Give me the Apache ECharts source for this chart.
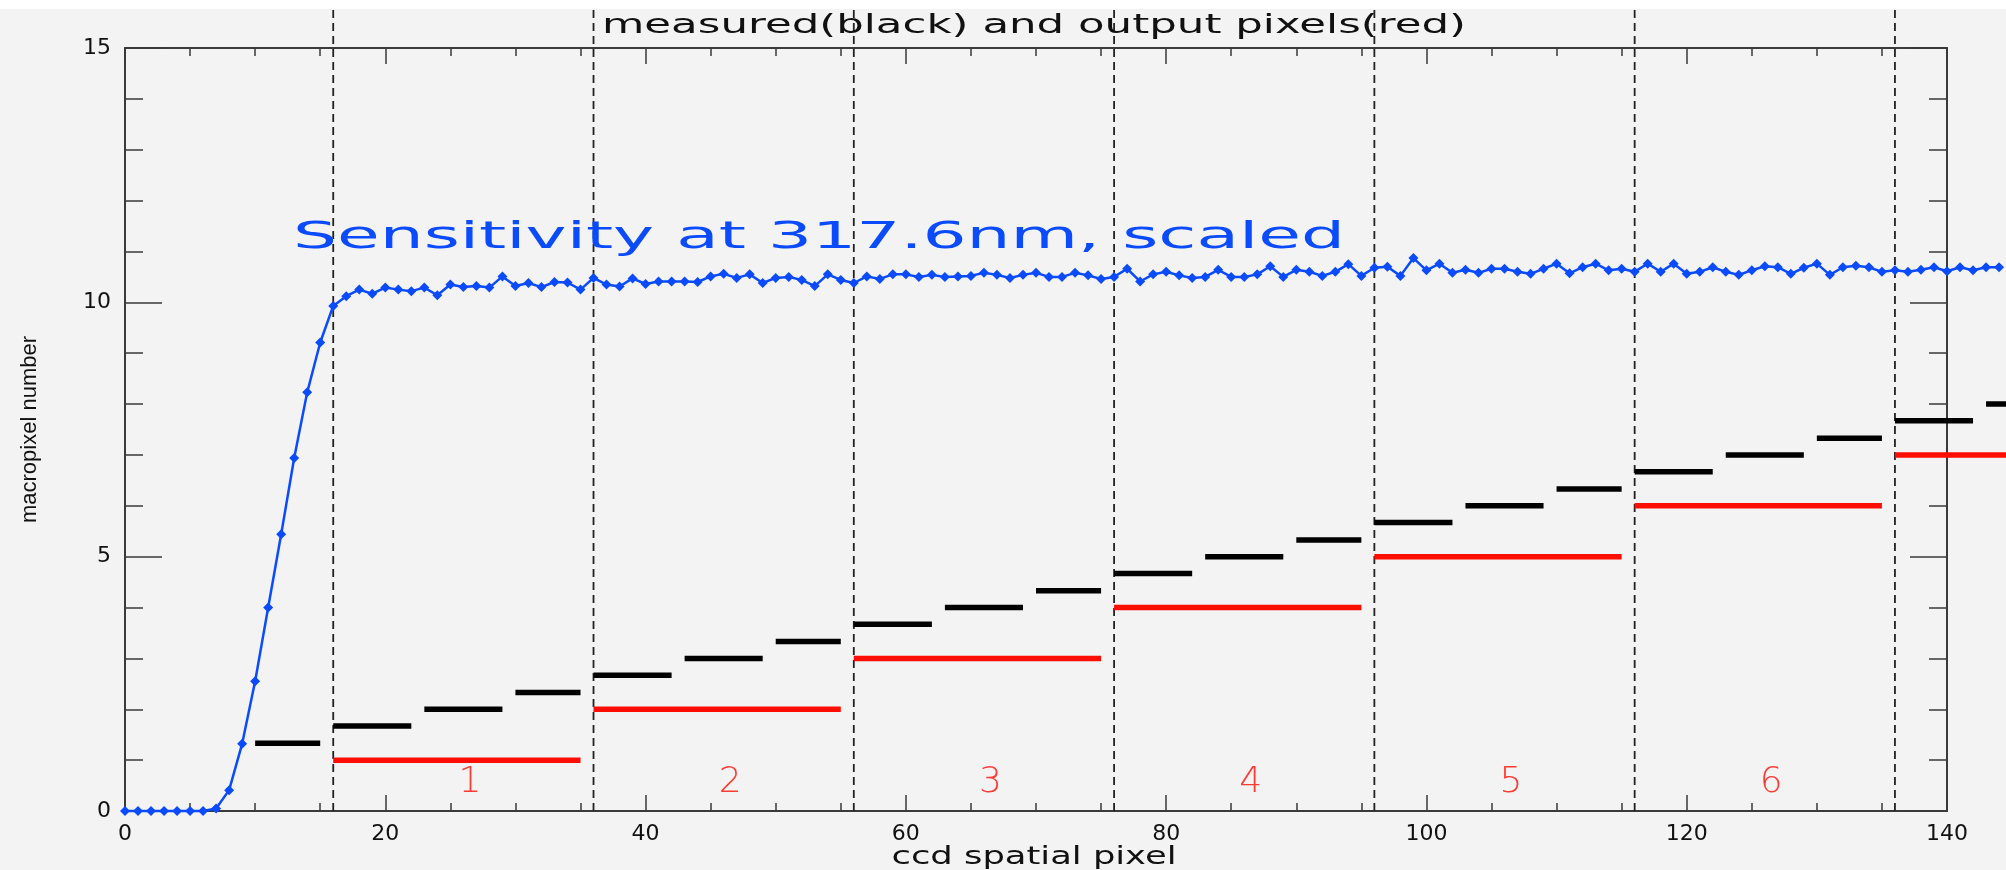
<!DOCTYPE html>
<html>
<head>
<meta charset="utf-8">
<script src="https://cdn.jsdelivr.net/npm/echarts@6/dist/echarts.min.js"></script>
<style>
html,body{margin:0;padding:0;background:#f3f3f3;}
#c{width:2006px;height:870px;}
</style>
</head>
<body>
<div id="c"></div>
<script>
// ---------------- data ----------------
const titleText = 'measured(black) and output pixels(red)';
const sensText = 'Sensitivity at 317.6nm, scaled';
const xAxisName = 'ccd spatial pixel';
const yAxisName = 'macropixel number';

const xTickLabels = ['0', '20', '40', '60', '80', '100', '120', '140'];
const yTickLabels = ['0', '5', '10', '15'];

// sensitivity (scaled) per ccd spatial pixel, index = pixel 0..144
const sensitivity = [
  0, 0, 0, 0, 0, 0, 0, 0.05, 0.41, 1.32,
  2.55, 4.00, 5.44, 6.94, 8.23, 9.21, 9.93, 10.12, 10.25, 10.17,
  10.29, 10.25, 10.22, 10.29, 10.14, 10.35, 10.30, 10.32, 10.29, 10.51,
  10.32, 10.38, 10.30, 10.40, 10.39, 10.25, 10.48, 10.35, 10.31, 10.47,
  10.36, 10.41, 10.41, 10.41, 10.40, 10.51, 10.56, 10.48, 10.55, 10.38,
  10.48, 10.50, 10.44, 10.32, 10.55, 10.44, 10.38, 10.51, 10.46, 10.55,
  10.55, 10.50, 10.54, 10.50, 10.51, 10.52, 10.58, 10.54, 10.48, 10.54,
  10.58, 10.50, 10.50, 10.58, 10.53, 10.46, 10.50, 10.66, 10.41, 10.55,
  10.60, 10.53, 10.48, 10.50, 10.64, 10.50, 10.50, 10.55, 10.71, 10.50,
  10.64, 10.60, 10.52, 10.60, 10.75, 10.52, 10.68, 10.70, 10.52, 10.87,
  10.63, 10.76, 10.58, 10.64, 10.58, 10.66, 10.66, 10.60, 10.56, 10.66,
  10.76, 10.57, 10.69, 10.76, 10.63, 10.66, 10.60, 10.76, 10.60, 10.76,
  10.56, 10.60, 10.69, 10.60, 10.54, 10.63, 10.71, 10.69, 10.56, 10.68,
  10.76, 10.54, 10.69, 10.72, 10.69, 10.60, 10.63, 10.60, 10.64, 10.69,
  10.61, 10.69, 10.63, 10.69, 10.69
];

// measured macropixels (black)
const blackStart = [10, 16, 23, 30, 36, 43, 50, 56, 63, 70, 76, 83, 90, 96, 103, 110, 116, 123, 130, 136, 143];
const blackEnd   = [15, 22, 29, 35, 42, 49, 55, 62, 69, 75, 82, 89, 95, 102, 109, 115, 122, 129, 135, 142, 149];
const blackValue = [1.33, 1.67, 2.00, 2.33, 2.67, 3.00, 3.33, 3.67, 4.00, 4.33, 4.67, 5.00, 5.33, 5.67, 6.00, 6.33, 6.67, 7.00, 7.33, 7.67, 8.00];

// output pixels (red)
const redStart = [16, 36, 56, 76, 96, 116, 136];
const redEnd   = [35, 55, 75, 95, 115, 135, 155];
const redValue = [1, 2, 3, 4, 5, 6, 7];

// output pixel boundaries (dashed)
const dividerX = [16, 36, 56, 76, 96, 116, 136];
const dividerTop = 15.8;

// output pixel numbers (red labels)
const pixelLabels = ['1', '2', '3', '4', '5', '6'];
const pixelLabelX = [26.5, 46.5, 66.5, 86.5, 106.5, 126.5];
const pixelLabelY = [0.56, 0.56, 0.56, 0.56, 0.56, 0.56];

// axis ranges
const xMin = 0, xMax = 140, xStep = 20;
const yMin = 0, yMax = 15, yStep = 5;

// ---------------- build ----------------
function segments(starts, ends, vals) {
  const d = [];
  starts.forEach((s, i) => {
    d.push([s, vals[i]], [ends[i], vals[i]], [ends[i], null]);
  });
  return d;
}
function dividers(xs, top) {
  const d = [];
  xs.forEach(x => { d.push([x, 0], [x, top], [x, null]); });
  return d;
}
function textWidth(text, font) {
  const ctx = document.createElement('canvas').getContext('2d');
  ctx.font = font;
  return ctx.measureText(text).width;
}

const FONT = '"DejaVu Sans", sans-serif';
const AX = '#3a3a3a';
const BLUE = '#0b4bff';
const RED = '#ff0d00';

const titleSize = 26, sensSize = 38, xNameSize = 24;
const titleScale = 864 / textWidth(titleText, titleSize + 'px ' + FONT);
const sensScale = 1052 / textWidth(sensText, sensSize + 'px ' + FONT);
const xNameScale = 285 / textWidth(xAxisName, xNameSize + 'px ' + FONT);

const pageW = 2006;
const plotLeft = 125, plotWidth = 1822, plotTop = 48, plotBottom = 59;
// the data run on past the framed axis up to the page edge:
// a hidden twin axis with the same scale spans plotLeft..pageW
const dataWidth = pageW - plotLeft;
const xDataMax = xMax * dataWidth / plotWidth;

const chart = echarts.init(document.getElementById('c'), null, {renderer: 'canvas'});

const commonX = {
  type: 'value', min: xMin, max: xMax, interval: xStep, gridIndex: 0,
  axisLine: {show: true, onZero: false, lineStyle: {color: AX, width: 2}},
  axisTick: {show: true, inside: true, length: 16, lineStyle: {color: AX, width: 1.5}},
  minorTick: {show: true, splitNumber: 4, length: 8, lineStyle: {color: AX, width: 1.5}},
  splitLine: {show: false}, minorSplitLine: {show: false}
};
const commonY = {
  type: 'value', min: yMin, max: yMax, interval: yStep, gridIndex: 0,
  axisLine: {show: true, onZero: false, lineStyle: {color: AX, width: 2}},
  axisTick: {show: true, inside: true, length: 37, lineStyle: {color: AX, width: 1.5}},
  minorTick: {show: true, splitNumber: 5, length: 18, lineStyle: {color: AX, width: 1.5}},
  splitLine: {show: false}, minorSplitLine: {show: false}
};

const dataAxes = {xAxisIndex: 2, yAxisIndex: 2};

chart.setOption({
  animation: false,
  backgroundColor: '#f3f3f3',
  grid: [
    {left: plotLeft, width: plotWidth, top: plotTop, bottom: plotBottom, containLabel: false},
    {left: plotLeft, width: dataWidth, top: plotTop, bottom: plotBottom, containLabel: false}
  ],
  xAxis: [
    Object.assign({}, commonX, {
      position: 'bottom',
      axisLabel: {
        show: true, margin: 12, fontFamily: FONT, fontSize: 22, color: '#111',
        formatter: v => xTickLabels[Math.round(v / xStep)]
      }
    }),
    Object.assign({}, commonX, {position: 'top', axisLabel: {show: false}}),
    {type: 'value', gridIndex: 1, min: xMin, max: xDataMax, show: false}
  ],
  yAxis: [
    Object.assign({}, commonY, {
      position: 'left',
      name: yAxisName, nameLocation: 'middle', nameRotate: 90, nameGap: 84,
      nameTextStyle: {fontFamily: '"Liberation Sans", Arial, sans-serif', fontSize: 22, color: '#111'},
      axisLabel: {
        show: true, margin: 14, fontFamily: FONT, fontSize: 22, color: '#111',
        formatter: v => yTickLabels[Math.round(v / yStep)]
      }
    }),
    Object.assign({}, commonY, {position: 'right', axisLabel: {show: false}}),
    {type: 'value', gridIndex: 1, min: yMin, max: yMax, show: false}
  ],
  graphic: [
    {type: 'rect', z: 100, shape: {x: 0, y: 0, width: pageW, height: 9}, style: {fill: '#ffffff'}},
    {type: 'text', z: 50, x: 1034, y: 26, scaleX: titleScale,
     style: {text: titleText, font: titleSize + 'px ' + FONT, fill: '#111', align: 'center', verticalAlign: 'middle'}},
    {type: 'text', z: 50, x: 293, y: 238, scaleX: sensScale,
     style: {text: sensText, font: sensSize + 'px ' + FONT, fill: BLUE, align: 'left', verticalAlign: 'middle'}},
    {type: 'text', z: 50, x: 1034, y: 858, scaleX: xNameScale,
     style: {text: xAxisName, font: xNameSize + 'px ' + FONT, fill: '#111', align: 'center', verticalAlign: 'middle'}}
  ],
  series: [
    Object.assign({
      name: 'boundaries', type: 'line', clip: false, z: 2,
      data: dividers(dividerX, dividerTop), connectNulls: false,
      symbol: 'none', showSymbol: false,
      lineStyle: {color: '#222', width: 1.8, type: [8, 5]}
    }, dataAxes),
    Object.assign({
      name: 'measured', type: 'line', clip: false, z: 3,
      data: segments(blackStart, blackEnd, blackValue), connectNulls: false,
      symbol: 'none', showSymbol: false,
      lineStyle: {color: '#000', width: 5.5, cap: 'butt'}
    }, dataAxes),
    Object.assign({
      name: 'output', type: 'line', clip: false, z: 3,
      data: segments(redStart, redEnd, redValue), connectNulls: false,
      symbol: 'none', showSymbol: false,
      lineStyle: {color: RED, width: 5.5, cap: 'butt'}
    }, dataAxes),
    Object.assign({
      name: 'pixel numbers', type: 'scatter', z: 4, symbolSize: 1,
      itemStyle: {color: 'rgba(0,0,0,0)'},
      data: pixelLabels.map((t, i) => ({name: t, value: [pixelLabelX[i], pixelLabelY[i]]})),
      label: {show: true, position: 'inside', formatter: '{b}', fontFamily: FONT, fontWeight: 200, fontSize: 36, color: RED}
    }, dataAxes),
    Object.assign({
      name: 'sensitivity', type: 'line', clip: false, z: 5,
      data: sensitivity.map((v, i) => [i, v]),
      symbol: 'diamond', symbolSize: 10, showSymbol: true, showAllSymbol: true,
      itemStyle: {color: BLUE},
      lineStyle: {color: BLUE, width: 2.5}
    }, dataAxes)
  ]
});
</script>
</body>
</html>
